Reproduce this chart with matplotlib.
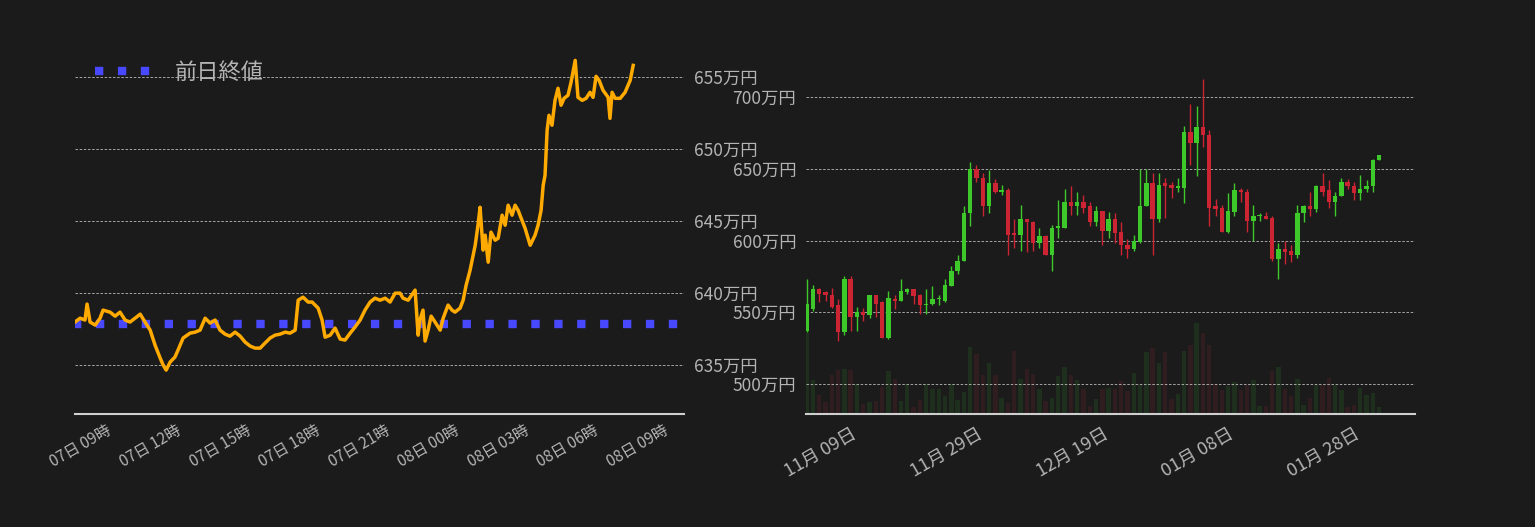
import matplotlib
matplotlib.use("Agg")
import matplotlib.pyplot as plt
import matplotlib.dates as mdates
import numpy as np
import pandas as pd

plt.rcParams['font.family'] = ['Noto Sans CJK JP', 'DejaVu Sans']

# ---- left: intraday (hours since 07日 09時) ----
hours = [-1.34,-1.12,-0.91,-0.82,-0.69,-0.47,-0.26,-0.13,0.17,0.39,0.60,0.82,1.03,1.25,1.47,1.68,1.90,2.11,2.33,2.46,2.59,2.76,2.97,3.10,3.32,3.62,3.84,4.05,4.27,4.48,4.70,4.91,5.13,5.34,5.56,5.78,5.99,6.21,6.42,6.64,6.85,7.07,7.28,7.50,7.72,7.93,8.15,8.28,8.49,8.71,8.88,9.14,9.31,9.44,9.66,9.87,10.09,10.30,10.52,10.73,10.95,11.16,11.38,11.59,11.81,12.03,12.24,12.46,12.67,12.80,13.02,13.23,13.32,13.45,13.53,13.66,13.75,13.88,14.01,14.18,14.40,14.53,14.74,14.91,15.04,15.26,15.39,15.52,15.69,15.91,16.03,16.12,16.25,16.34,16.47,16.59,16.77,16.90,17.07,17.20,17.33,17.50,17.63,17.76,17.84,18.06,18.28,18.49,18.62,18.75,18.84,18.92,19.01,19.09,19.22,19.35,19.48,19.61,19.74,19.91,20.04,20.22,20.34,20.52,20.69,20.86,20.99,21.12,21.25,21.42,21.64,21.72,21.81,21.94,22.16,22.37,22.59,22.72]
prices = [637.99,638.26,638.13,639.24,637.99,637.78,638.26,638.82,638.68,638.40,638.68,638.13,637.99,638.26,638.54,637.99,637.43,636.39,635.49,635.00,634.65,635.21,635.56,636.04,636.88,637.22,637.29,637.43,638.26,637.92,638.13,637.43,637.15,637.01,637.29,637.01,636.60,636.32,636.18,636.18,636.53,636.88,637.08,637.15,637.29,637.22,637.43,639.51,639.72,639.38,639.38,638.96,638.13,636.94,637.08,637.57,636.81,636.74,637.22,637.64,638.13,638.82,639.38,639.65,639.51,639.65,639.38,640.00,640.00,639.65,639.51,640.00,640.21,637.08,638.13,638.82,636.67,637.43,638.40,637.99,637.43,638.26,639.17,638.82,638.68,638.96,639.51,640.56,641.60,643.33,644.72,645.97,642.99,644.03,642.15,644.24,643.68,643.82,645.42,644.72,646.11,645.42,646.11,645.76,645.42,644.51,643.33,644.03,644.72,645.76,647.50,648.19,651.32,652.36,651.67,653.40,654.24,653.06,653.54,653.75,654.65,656.18,653.61,653.40,653.54,653.96,653.61,655.07,654.79,654.10,653.61,652.15,653.96,653.54,653.54,653.96,654.79,655.83]
prev_close = 637.85
left_ticks = [0, 3, 6, 9, 12, 15, 18, 21, 24]
left_ticklabels = ['07日 09時','07日 12時','07日 15時','07日 18時','07日 21時','08日 00時','08日 03時','08日 06時','08日 09時']
left_yticks = [635, 640, 645, 650, 655]

# ---- right: daily OHLC ----
start_date = '2023-11-02'
o = [537,552,566,564,562,555,536,573,547,550,548,562,557,532,559,558,564,566,562,555,556,559,558,568,579,586,619,650,644,624,640,634,635,605,604,615,613,598,603,590,609,609,627,624,627,624,613,621,607,615,606,597,594,599,624,640,615,640,639,637,637,676,668,679,674,624,623,606,620,635,634,614,617,617,616,587,594,593,590,619,624,622,638,635,627,631,641,638,633,636,638,656]
c = [556,566,563,562,554,536,573,547,550,548,562,556,532,560,558,565,566,561,555,556,559,559,569,579,586,619,650,644,624,640,634,635,604,604,615,613,598,603,590,609,610,627,624,627,623,613,621,607,615,605,597,594,600,624,640,615,639,638,637,638,676,668,679,674,623,622,606,621,635,634,614,617,617.5,615,587,594,592,590,619,624,622,638,634,627,631,641,638,633,636,638,656,660]
h = [573,569,567,565,567,559,575,575,554,553,562,562,558,565,562,573,567,566,563,566,568,562,573,582,590,624,655,653,647,649,643,639,637,615,625,615,614,609,604,611,628,636,638,634,632,627,624,621,620,619,613,601,604,650,650,647,647,644,641,644,680,695,694,713,677,629,625,633,640,637,636,625,619,620,617,598,600,597,625,625,634,639,647,642,634,644,643,641,646,642,657,660]
l = [536,551,557,558,553,530,534,537,537,544,546,547,532,531,552,558,563,556,549,549,555,555,557,568,577,586,610,641,617,619,633,632,590,595,593,592,593,595,590,579,602,609,618,618,619,610,610,597,602,598,590,588,593,598,624,590,613,616,630,634,626,653,645,665,610,617,606,605,617,627,606,600,614,615,586,573,584,585,588,613,617,620,631,623,617,631,636,628,628,634,634,656]
vol = [240,100,55,37,115,130,133,130,90,30,35,40,80,127,105,40,90,20,43,90,73,73,52,90,43,65,198,177,117,150,115,47,33,187,103,135,120,75,40,48,113,138,115,102,75,25,45,73,77,75,97,67,123,85,183,197,150,185,45,60,187,205,270,240,205,90,70,83,95,70,85,100,25,25,127,138,75,52,105,27,48,85,85,108,87,72,20,28,78,55,63,20]
right_tick_dates = ['2023-11-09','2023-11-29','2023-12-19','2024-01-08','2024-01-28']
right_ticklabels = ['11月 09日','11月 29日','12月 19日','01月 08日','01月 28日']
right_yticks = [500, 550, 600, 650, 700]

BG = '#1b1b1b'
TXT = '#b4b4b4'
fig = plt.figure(figsize=(15.35, 5.27), dpi=100, facecolor=BG)

def style(ax):
    ax.set_facecolor(BG)
    for s in ['top', 'left', 'right']:
        ax.spines[s].set_visible(False)
    ax.spines['bottom'].set_color('#cfcfcf')
    ax.spines['bottom'].set_linewidth(1.5)
    ax.yaxis.tick_right()
    ax.tick_params(axis='y', length=0, colors=TXT, labelsize=12.5, pad=7)
    ax.tick_params(axis='x', length=0, colors=TXT)
    ax.grid(axis='y', color='#bbbbbb', linestyle=(0, (3, 2)), linewidth=0.6)
    ax.set_axisbelow(True)

W, H = 1535, 527
ax1 = fig.add_axes([75/W, (H-414)/H, 609/W, 364/H])
style(ax1)
ax1.plot([hours[0] - 0.1, 24.9], [prev_close, prev_close], color='#4848ff', lw=6,
         linestyle=(0, (1, 1.75)), label='前日終値', zorder=2)
ax1.plot(hours, prices, color='#ffaa00', lw=2.5, zorder=3)
ax1.set_xlim(-1.34, 24.91)
ax1.set_ylim(631.6, 656.9)
ax1.set_yticks(left_yticks)
ax1.set_yticklabels([f'{v}万円' for v in left_yticks])
ax1.set_xticks(left_ticks)
ax1.set_xticklabels(left_ticklabels, rotation=30, ha='right', rotation_mode='anchor', fontsize=11)
ax1.tick_params(axis='x', pad=6)
leg = ax1.legend(loc='upper left', bbox_to_anchor=(0.0, 1.025), frameon=False, fontsize=16,
                 labelcolor=TXT, handlelength=3.0, handletextpad=0.6)

ax2 = fig.add_axes([806/W, (H-414)/H, 609/W, 364/H])
style(ax2)
dates = pd.date_range(start_date, periods=len(o))
xd = mdates.date2num(dates)
up = np.array(c) >= np.array(o)
vcol = np.where(up, '#1e2f1e', '#301d20')
axv = ax2.twinx()
axv.set_ylim(0, max(vol) * 4.0)
axv.axis('off')
axv.bar(xd, vol, width=0.7, color=vcol, zorder=1)
ax2.set_zorder(axv.get_zorder() + 1)
ax2.patch.set_visible(False)
fig.patches.append(plt.Rectangle((806/W, (H-414)/H), 609/W, 364/H, transform=fig.transFigure,
                                 color=BG, zorder=-5))
ccol = np.where(up, '#3ec92a', '#cc2433')
ax2.vlines(xd, l, h, color=ccol, lw=1, zorder=3)
bot = np.minimum(o, c)
ht = np.maximum(np.abs(np.array(c) - np.array(o)), 0.6)
ax2.bar(xd, ht, bottom=bot, width=0.7, color=ccol, zorder=4)
ax2.set_xlim(xd[0] - 0.1, xd[0] + 96.7)
ax2.set_ylim(479, 733)
ax2.set_yticks(right_yticks)
ax2.set_yticklabels([f'{v}万円' for v in right_yticks])
ax2.set_xticks(mdates.date2num(pd.to_datetime(right_tick_dates)))
ax2.set_xticklabels(right_ticklabels, rotation=30, ha='right', rotation_mode='anchor', fontsize=13)
ax2.tick_params(axis='x', pad=8)

fig.savefig('out.png', dpi=100, facecolor=BG)
